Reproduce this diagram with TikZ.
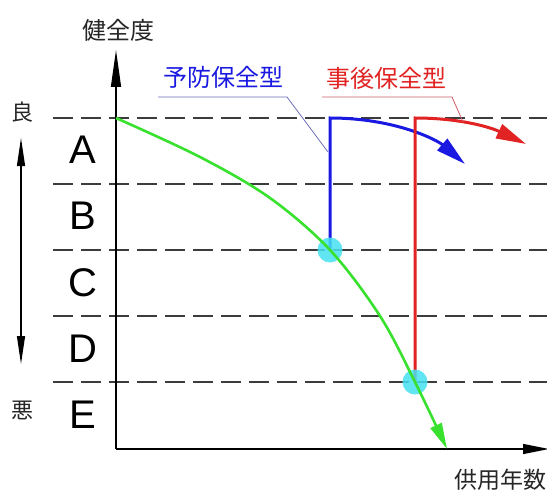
\documentclass[tikz,border=0pt]{standalone}
\usepackage{fontspec}
\setmainfont{Liberation Sans}
\newfontfamily\jp{Noto Sans CJK JP}
\usetikzlibrary{arrows.meta}
\definecolor{gline}{RGB}{55,225,45}
\definecolor{bline}{RGB}{25,25,225}
\definecolor{rline}{RGB}{225,35,35}
\definecolor{cyanc}{RGB}{70,225,240}
\definecolor{gridc}{RGB}{60,60,60}
\definecolor{bleader}{RGB}{110,110,185}
\definecolor{rleader}{RGB}{205,95,105}
\begin{document}
\begin{tikzpicture}[x=1pt,y=-1pt,
  gridline/.style={draw=gridc, line width=1.3pt, dash pattern=on 20pt off 8pt},
  axisline/.style={draw=black, line width=1.4pt},
  jplabel/.style={font=\jp\fontsize{24}{24}\selectfont, text=black!85, inner sep=0pt},
  sidelabel/.style={font=\jp\fontsize{22}{22}\selectfont, text=black!85, inner sep=0pt},
  grade/.style={font=\fontsize{40}{40}\selectfont, text=black, inner sep=0pt},
  dot/.style={circle, fill=cyanc, fill opacity=0.85, minimum size=25pt, inner sep=0pt},
  leader/.style={line width=0.8pt}]
\useasboundingbox (0,0) rectangle (547,495);
\fill[white] (0,0) rectangle (547,495);

% grid lines
\foreach \yy in {118,184,250,316,382}
  \draw[gridline] (53,\yy) -- (547,\yy);

% axes
\coordinate (O) at (116,449);
\coordinate (ytip) at (116,50);
\coordinate (xtip) at (549,449);
\draw[axisline, -{Triangle[length=37pt,width=10pt]}] (O) -- (ytip);
\draw[axisline, -{Triangle[length=26pt,width=10pt]}] (O) -- (xtip);

% axis labels
\node[jplabel] (ylab) at (118,30) {健全度};
\node[jplabel, font=\jp\fontsize{23}{23}\selectfont, anchor=west] (xlab) at (454,480) {供用年数};
\node[sidelabel] (good) at (22,112) {良};
\node[sidelabel] (bad) at (22,410) {悪};
\coordinate (upa) at (21,138);
\coordinate (dna) at (21,364);
\draw[line width=1.2pt, {Triangle[length=28pt,width=8pt]}-{Triangle[length=28pt,width=8pt]}] (upa) -- (dna);

% grades
\node[grade] (A) at (83,150) {A};
\node[grade] (B) at (83,216) {B};
\node[grade] (C) at (83,283) {C};
\node[grade] (D) at (83,349) {D};
\node[grade] (E) at (83,415) {E};

% points
\coordinate (p1) at (330,250);
\coordinate (p2) at (415,382);

% preventive (blue)
\coordinate (btop) at (330,118);
\coordinate (bend) at (465,164);
\draw[bline, line width=3pt, -{Triangle[length=30pt,width=15pt]}]
  (p1) -- (btop) .. controls (395,118) and (437,140) .. (bend);

% corrective (red)
\coordinate (rtop) at (415,118);
\coordinate (rend) at (526,144);
\draw[rline, line width=3pt, -{Triangle[length=30pt,width=15pt]}]
  (p2) -- (rtop) .. controls (462,118) and (492,128) .. (rend);

% circles
\node[dot] (c1) at (p1) {};
\node[dot] (c2) at (p2) {};

% deterioration curve (green)
\draw[gline, line width=2.6pt, -{Triangle[length=26pt,width=12pt]}]
  plot[smooth, tension=0.55] coordinates {(116,118) (200,157) (270,198) (330,250) (380,316) (415,382) (447,449)};

% labels with leaders
\node[jplabel, text=bline] (prev) at (223,77) {予防保全型};
\coordinate (pl1) at (158,97);
\coordinate (pl2) at (287,97);
\coordinate (pl3) at (328,152);
\draw[bleader, leader] (pl1) -- (pl2) -- (pl3);

\node[jplabel, text=rline] (corr) at (386,78) {事後保全型};
\coordinate (rl1) at (322,97);
\coordinate (rl2) at (452,97);
\coordinate (rl3) at (463,122);
\draw[rleader, leader] (rl1) -- (rl2) -- (rl3);
\end{tikzpicture}
\end{document}
